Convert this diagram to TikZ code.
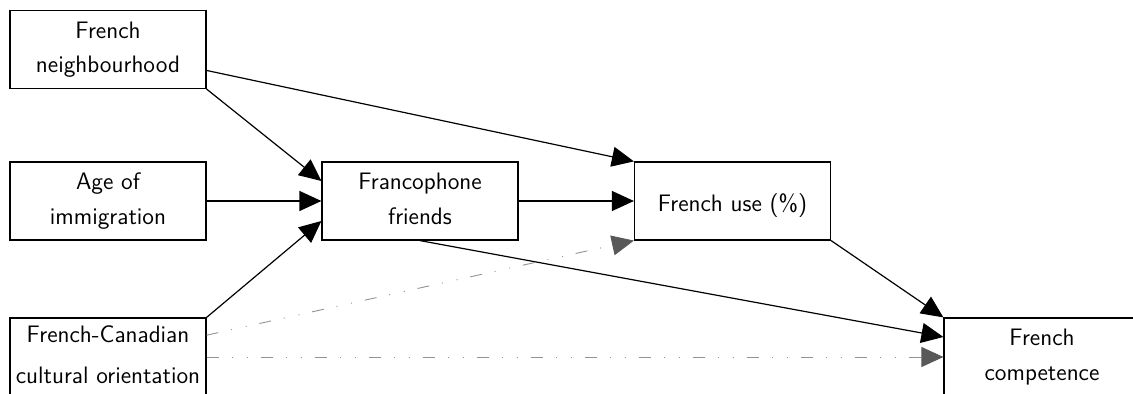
\documentclass[tikz,border=0pt]{standalone}
\usetikzlibrary{arrows.meta}
\begin{document}
\begin{tikzpicture}[x=0.5pt,y=-0.5pt,
  box/.style={draw, line width=0.6pt, minimum width=98pt, minimum height=39pt, inner sep=0pt, align=center,
    font=\sffamily\fontsize{11.9}{17.3}\selectfont,
    execute at begin node={\rule{0pt}{13.4pt}},
    execute at end node={\rule[-2.4pt]{0pt}{2.4pt}}},
  widebox/.style={box, font=\sffamily\fontsize{11.9}{20.85}\selectfont, execute at end node={}},
  arr/.style={line width=0.6pt, -{Triangle[length=11pt,width=10pt]}},
  garr/.style={line width=0.45pt, draw=gray!85, dash pattern=on 6pt off 6.5pt on 0.5pt off 7pt on 0.5pt off 6.5pt,
    -{Triangle[length=11pt,width=10pt,color=black!65,fill=black!65]}}]
\useasboundingbox (0,0) rectangle (1133,394);
\clip (0,0) rectangle (1133,394);
\fill[white] (0,0) rectangle (1133,394);
\node[box] (nb) at (108,49.5) {French\\neighbourhood};
\node[box] (age) at (108,201) {Age of\\immigration};
\node[widebox] (cult) at (108,357) {French-Canadian\\cultural orientation};
\node[box] (fr) at (420,201) {Francophone\\friends};
\node[box] (use) at (732.5,201) {French use (\%)};
\node[box] (comp) at (1042,357) {French\\competence};
\draw[arr] (nb.south east) -- ([yshift=10pt]fr.west);
\draw[arr] (nb) -- (use.north west);
\draw[arr] (age) -- (fr);
\draw[arr] (cult.north east) -- ([yshift=-10pt]fr.west);
\draw[arr] (fr) -- (use);
\draw[arr] (fr.south) -- ([yshift=10pt]comp.west);
\draw[arr] (use.south east) -- (comp.north west);
\draw[garr] (cult) -- (use.south west);
\draw[garr] (cult) -- (comp);
\end{tikzpicture}
\end{document}
